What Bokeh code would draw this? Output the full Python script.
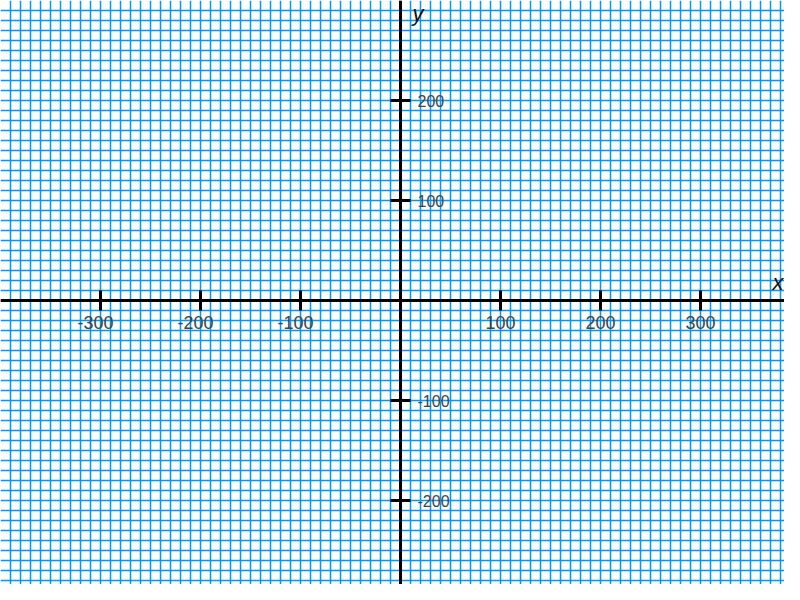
from bokeh.plotting import figure
from bokeh.models import SingleIntervalTicker, Range1d
from bokeh.core.properties import value
from bokeh.embed import file_html
from bokeh.resources import INLINE

# data
x_ticks = [-300, -200, -100, 100, 200, 300]
x_tick_labels = ["-300", "-200", "-100", "100", "200", "300"]
y_ticks = [-200, -100, 100, 200]
y_tick_labels = ["-200", "-100", "100", "200"]
grid_step = 10
x_min, x_max = -400, 384
y_min, y_max = -284, 300

W, H = 784, 584
p = figure(width=W, height=H, output_backend="svg", toolbar_location=None,
           x_range=Range1d(x_min, x_max), y_range=Range1d(y_min, y_max),
           min_border=0, outline_line_color=None)
p.xaxis.visible = False
p.yaxis.visible = False
for g in (p.xgrid, p.ygrid):
    g.ticker = SingleIntervalTicker(interval=grid_step)
    g.grid_line_color = "#0096FA"
    g.grid_line_width = 1.5
    g.grid_line_alpha = 1.0

# axis lines
p.segment(x0=[x_min], y0=[0], x1=[x_max], y1=[0], line_color="black", line_width=3)
p.segment(x0=[0], y0=[y_min], x1=[0], y1=[y_max], line_color="black", line_width=3)

tl = 10
# ticks
p.segment(x0=x_ticks, y0=[-tl] * len(x_ticks), x1=x_ticks, y1=[tl] * len(x_ticks),
          line_color="black", line_width=3)
p.segment(x0=[-tl] * len(y_ticks), y0=y_ticks, x1=[tl] * len(y_ticks), y1=y_ticks,
          line_color="black", line_width=3)

# tick labels
xo = [-5 if v < 0 else 0 for v in x_ticks]
p.text(x=x_ticks, y=[-15] * len(x_ticks), text=x_tick_labels, x_offset=xo,
       text_align="center", text_baseline="top",
       text_font=value("Liberation Sans"), text_font_size="18px", text_color="#444444")
p.text(x=[17] * len(y_ticks), y=y_ticks, text=y_tick_labels,
       text_align="left", text_baseline="middle",
       text_font=value("Liberation Sans"), text_font_size="16px", text_color="#444444")

# axis names
p.text(x=[372], y=[6], text=["x"], text_align="left", text_baseline="bottom",
       text_font=value("Liberation Sans"), text_font_style="italic",
       text_font_size="22px", text_color="#111111")
p.text(x=[12], y=[y_max], text=["y"], text_align="left", text_baseline="top",
       text_font=value("Liberation Sans"), text_font_style="italic",
       text_font_size="22px", text_color="#111111")

open("out.html", "w").write(file_html(p, INLINE))
